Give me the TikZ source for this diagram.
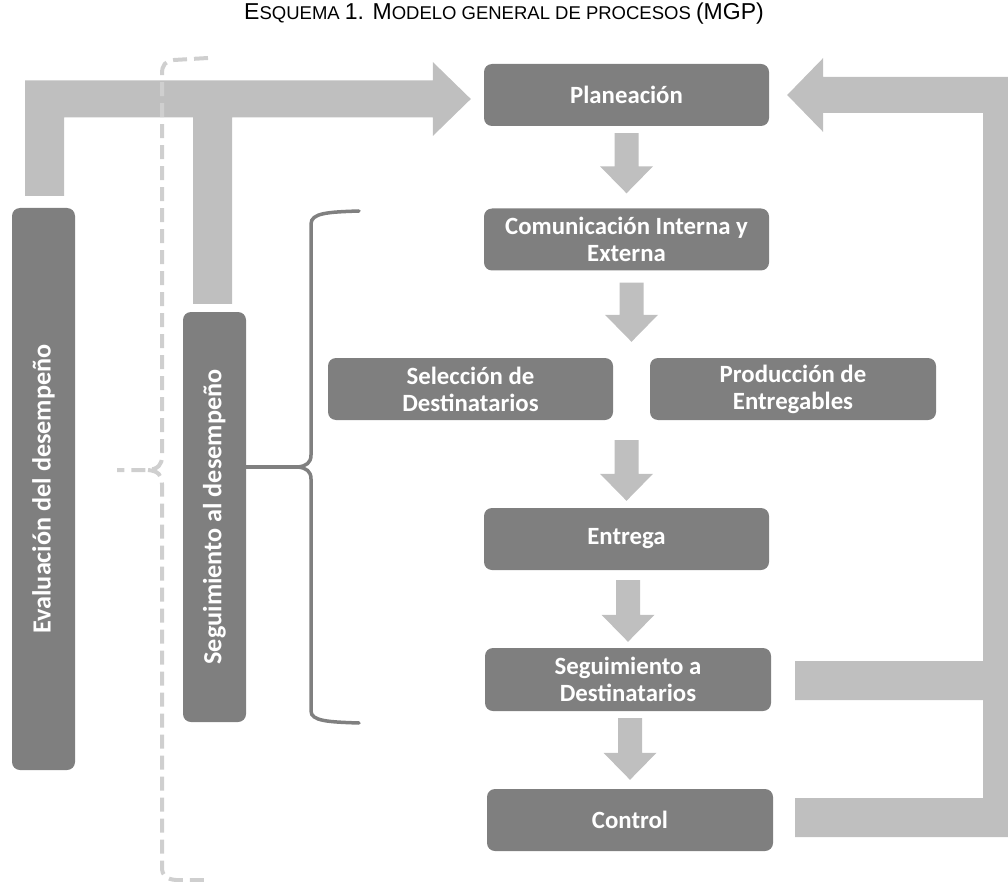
\documentclass[tikz,border=0pt]{standalone}
\usepackage{fontspec}
\usepackage{graphicx}
\setmainfont{Carlito}
\newfontfamily\titlefont{Liberation Sans}
\usetikzlibrary{calc}
\definecolor{boxgray}{HTML}{7F7F7F}
\definecolor{arrowgray}{HTML}{BFBFBF}
\definecolor{dashgray}{HTML}{CFCFCF}
\definecolor{bracegray}{HTML}{808080}
\tikzset{
  procbox/.style={fill=boxgray, rounded corners=8pt, inner sep=0pt, text=white,
    font=\bfseries\fontsize{24.8}{27}\selectfont, align=center,
    minimum width=285pt, minimum height=62pt},
  vbox/.style={procbox, minimum width=63pt, font=\bfseries\fontsize{26.2}{28}\selectfont},
  bracestyle/.style={draw=bracegray, line width=3.5pt, line cap=round},
  dashbrace/.style={draw=dashgray, line width=4pt, dash pattern=on 14pt off 7pt},
  blockfill/.style={fill=arrowgray},
  ghost/.style={inner sep=0pt, minimum width=1pt, minimum height=62pt}
}
\newcommand\barrow[4]{%
  \fill[blockfill] let \p1=(#1.south), \p2=(#2.north) in
    (\x2-12pt,\y1-#3pt) -- (\x2+12pt,\y1-#3pt) -- (\x2+12pt,\y2+#4pt+27pt)
    -- (\x2+26.5pt,\y2+#4pt+27pt) -- (\x2,\y2+#4pt) -- (\x2-26.5pt,\y2+#4pt+27pt)
    -- (\x2-12pt,\y2+#4pt+27pt) -- cycle;}
\begin{document}
\begin{tikzpicture}[x=1pt,y=-1pt]
\useasboundingbox (0,0) rectangle (1008,882);
\clip (0,0) rectangle (1008,882);

% title
\node[inner sep=0pt] (title) at (504,14) {\titlefont
  \fontsize{23}{26}\selectfont E\fontsize{18.5}{26}\selectfont SQUEMA
  \fontsize{23}{26}\selectfont 1. M\fontsize{18.5}{26}\selectfont ODELO GENERAL DE PROCESOS
  \fontsize{23}{26}\selectfont (MGP)};

% process boxes
\node[procbox] (plan) at (626.5,95) {Planeación};
\node[procbox] (com) at (626.5,239.5) {Comunicación Interna y\\Externa};
\node[procbox] (sel) at (470.5,389) {Selección de\\Destinatarios};
\node[procbox, minimum width=286pt] (prod) at (793,389) {Producción de\\Entregables};
\node[ghost] (mid) at ($(sel.east)!0.5!(prod.west)$) {};
\node[procbox] (entr) at (626.5,539) {Entrega};
\node[procbox, minimum width=286pt, minimum height=63pt] (sdest) at (628,679.5) {Seguimiento a\\Destinatarios};
\node[procbox, minimum width=286pt] (ctrl) at (630,820) {Control};

% vertical boxes
\node[vbox, minimum height=562pt] (eval) at (43.5,489) {\rotatebox{90}{Evaluación del desempeño}};
\node[vbox, minimum height=410pt] (segd) at (214.5,517) {\rotatebox{90}{Seguimiento al desempeño}};

% down block arrows
\barrow{plan}{com}{7}{15}
\barrow{com}{mid}{12}{16}
\barrow{mid}{entr}{20}{7}
\barrow{entr}{sdest}{10}{6}
\barrow{sdest}{ctrl}{7}{9}

% left feedback arrow (into Planeacion)
\coordinate (lt) at ($(plan.west)+(-13,4)$);
\coordinate (lv) at ($(eval.north)+(1,-12)$);
\coordinate (tv) at ($(segd.north)+(-2,-8)$);
\fill[blockfill] let \p1=(lt), \p2=(lv), \p3=(tv) in
  (\x2-19.5pt,\y2) -- (\x2-19.5pt,\y1+18.5pt) -- (\x1-38pt,\y1+18.5pt)
  -- (\x1-38pt,\y1+37pt) -- (\p1) -- (\x1-38pt,\y1-37pt) -- (\x1-38pt,\y1-18.5pt)
  -- (\x3+19.5pt,\y1-18.5pt) -- (\x3+19.5pt,\y3) -- (\x3-19.5pt,\y3)
  -- (\x3-19.5pt,\y1-18.5pt) -- (\x2+19.5pt,\y1-18.5pt) -- (\x2+19.5pt,\y2) -- cycle;

% right feedback arrow (from Seguimiento a Destinatarios and Control)
\coordinate (rt) at ($(plan.east)+(18,0)$);
\coordinate (rs) at ($(sdest.east)+(24,1)$);
\coordinate (rc) at ($(ctrl.east)+(22,-2.5)$);
\fill[blockfill] let \p1=(rt), \p2=(rs), \p3=(rc) in
  (\p1) -- (\x1+36pt,\y1+37pt) -- (\x1+36pt,\y1+18pt) -- (1021pt,\y1+18pt)
  -- (1021pt,\y3-19.5pt) -- (\x3,\y3-19.5pt) -- (\x3,\y3+19.5pt) -- (983pt,\y3+19.5pt)
  -- (983pt,\y2-19.5pt) -- (\x2,\y2-19.5pt) -- (\x2,\y2+19.5pt) -- (983pt,\y2+19.5pt)
  -- (983pt,\y1-18pt) -- (\x1+36pt,\y1-18pt) -- (\x1+36pt,\y1-37pt) -- cycle;

% dashed bracket
\coordinate (dtip) at (148,470);
\draw[dashbrace] (208,58) -- (174,60) .. controls (165,61) and (162,65) .. (162,74)
  -- (162,456) .. controls (162,465) and (158,469) .. (dtip) -- (117,470);
\draw[dashbrace] (dtip) .. controls (158,471) and (162,475) .. (162,484)
  -- (162,867) .. controls (162,876) and (166,879) .. (176,880) -- (208,880);

% solid brace
\coordinate (btip) at (298,467);
\draw[bracestyle] (segd.east |- btip) -- (btip);
\draw[bracestyle] (359,211) .. controls (328,212) and (311,213) .. (311,224)
  -- (311,455) .. controls (311,463) and (306,466) .. (btip)
  .. controls (306,468) and (311,471) .. (311,479)
  -- (311,711) .. controls (311,721) and (328,722) .. (359,723);
\end{tikzpicture}
\end{document}
